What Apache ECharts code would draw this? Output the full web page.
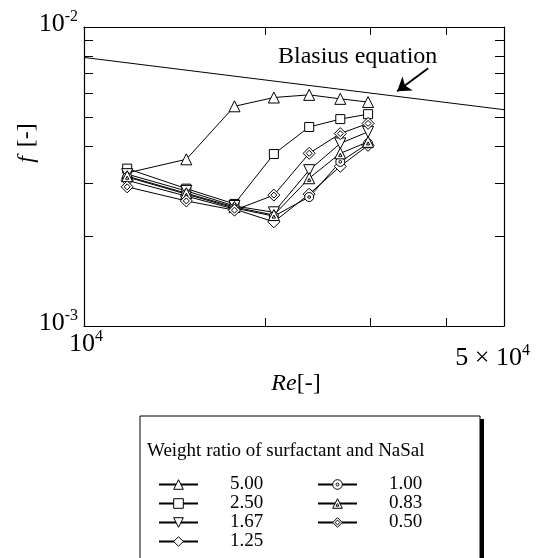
<!DOCTYPE html>
<html>
<head>
<meta charset="utf-8">
<title>f - Re</title>
<script src="https://cdn.jsdelivr.net/npm/echarts@6/dist/echarts.min.js"></script>
</head>
<body style="margin:0;background:#fff;">
<div id="main" style="width:539px;height:558px;"></div>
<script type="text/javascript">
// Reynolds numbers of the measurement points
var re = [11800, 14800, 17800, 20700, 23700, 26700, 29700];
// friction factor for each weight ratio
var f500 = [0.00325, 0.00361, 0.00543, 0.00581, 0.00593, 0.00575, 0.00561];
var f250 = [0.00336, 0.00288, 0.00256, 0.00376, 0.00463, 0.00492, 0.00511];
var f167 = [0.00322, 0.00283, 0.00252, 0.00240, 0.00332, 0.00408, 0.00446];
var f125 = [0.00307, 0.00272, 0.00246, 0.00223, 0.00276, 0.00342, 0.00402];
var f100 = [0.00315, 0.00276, 0.00248, 0.00233, 0.00270, 0.00354, 0.00408];
var f083 = [0.00317, 0.00278, 0.00250, 0.00235, 0.00312, 0.00378, 0.00413];
var f050 = [0.00292, 0.00262, 0.00244, 0.00274, 0.00378, 0.00440, 0.00476];
var names = ['5.00', '2.50', '1.67', '1.25', '1.00', '0.83', '0.50'];

// Blasius line end points
var blasiusRe = [10000, 50000];
var blasiusF = [0.00791, 0.00529];
var arrowFrom = [37400, 0.00728];
var arrowTo = [33200, 0.00610];

var xTicks = [20000, 30000, 40000];
var yTicks = [0.002, 0.003, 0.004, 0.005, 0.006, 0.007, 0.008, 0.009];
var xTickLabels = [[10000, '10', '4'], [50000, '5 × 10', '4']];
var yTickLabels = [[0.001, '10', '-3'], [0.01, '10', '-2']];

var FONT = '"Liberation Serif", "Times New Roman", serif';

var myChart = echarts.init(document.getElementById('main'));

function pairs(ys) {
    var out = [];
    for (var i = 0; i < re.length; i++) out.push([re[i], ys[i]]);
    return out;
}

var circDot = 'path://M0,10a10,10 0 1,0 20,0a10,10 0 1,0 -20,0M7,10a3,3 0 1,0 6,0a3,3 0 1,0 -6,0';
var triTri = 'path://M10,0L20,18L0,18ZM10,9L13,14L7,14Z';
var diaDia = 'path://M10,0L20,10L10,20L0,10ZM10,5L15,10L10,15L5,10Z';

var symbols = [
    {s: 'triangle', size: 11, rot: 0, d: f500},
    {s: 'rect', size: 9, rot: 0, d: f250},
    {s: 'triangle', size: 11, rot: 180, d: f167},
    {s: 'diamond', size: 12, rot: 0, d: f125},
    {s: circDot, size: 9, rot: 0, d: f100},
    {s: triTri, size: 11, rot: 0, d: f083},
    {s: diaDia, size: 12, rot: 0, d: f050}
];

var whiteMark = {color: '#fff', borderColor: '#000', borderWidth: 1};

var series = [{
    name: 'Blasius',
    type: 'line',
    data: [[blasiusRe[0], blasiusF[0]], [blasiusRe[1], blasiusF[1]]],
    showSymbol: false,
    symbol: 'none',
    silent: true,
    lineStyle: {color: '#000', width: 1},
    markLine: {
        silent: true,
        symbol: ['none', 'arrow'],
        symbolSize: 13,
        label: {show: false},
        lineStyle: {color: '#000', width: 2, type: 'solid'},
        data: [[{coord: arrowFrom}, {coord: arrowTo}]]
    }
}];
for (var i = 0; i < symbols.length; i++) {
    series.push({
        name: names[i],
        type: 'line',
        data: pairs(symbols[i].d),
        symbol: symbols[i].s,
        symbolSize: symbols[i].size,
        symbolRotate: symbols[i].rot,
        lineStyle: {color: '#000', width: 1},
        itemStyle: whiteMark,
        emphasis: {disabled: true}
    });
}

function xAx(pos) {
    return {
        type: 'log', logBase: 10, min: 10000, max: 50000, position: pos,
        axisLine: {show: true, onZero: false, lineStyle: {color: '#000', width: 1.2}},
        axisTick: {show: true, inside: true, length: 8, customValues: xTicks, lineStyle: {color: '#000'}},
        axisLabel: {show: false},
        splitLine: {show: false},
        minorTick: {show: false}
    };
}
function yAx(pos) {
    return {
        type: 'log', logBase: 10, min: 0.001, max: 0.01, position: pos,
        axisLine: {show: true, onZero: false, lineStyle: {color: '#000', width: 1.2}},
        axisTick: {show: true, inside: true, length: 9, customValues: yTicks, lineStyle: {color: '#000'}},
        axisLabel: {show: false},
        splitLine: {show: false},
        minorTick: {show: false}
    };
}

function legendItems(list) {
    return list.map(function (n) {
        return {name: n, itemStyle: whiteMark};
    });
}

function makeLegend(left, list) {
    return {
        orient: 'vertical',
        left: left,
        top: 475,
        height: 80,
        padding: 0,
        itemWidth: 39,
        itemHeight: 12,
        itemGap: 0,
        selectedMode: false,
        symbolRotate: 'inherit',
        textStyle: {fontFamily: FONT, fontSize: 19, color: '#000', lineHeight: 19, padding: [0, 0, 0, 27]},
        data: legendItems(list)
    };
}

option = {
    animation: false,
    backgroundColor: '#fff',
    grid: {left: 84, right: 35, top: 27, bottom: 232},
    xAxis: [xAx('bottom'), xAx('top')],
    yAxis: [yAx('left'), yAx('right')],
    legend: [makeLegend(158, names.slice(0, 4)), makeLegend(317, names.slice(4))],
    series: series
};
myChart.setOption(option);

// texts placed from the axes
var g = [
    {type: 'rect', shape: {x: 140, y: 416, width: 340, height: 160}, style: {fill: '#fff', stroke: '#000', lineWidth: 1}, z: -1},
    {type: 'rect', shape: {x: 480, y: 419, width: 4, height: 150}, style: {fill: '#000'}, z: -1},
    {type: 'text', x: 147, y: 451, style: {text: 'Weight ratio of surfactant and NaSal', font: '19px ' + FONT, fill: '#000', textVerticalAlign: 'middle'}}
];
var rich = {
    b: {fontFamily: FONT, fontSize: 26, lineHeight: 30, color: '#000'},
    s: {fontFamily: FONT, fontSize: 16, lineHeight: 16, verticalAlign: 'top', color: '#000'}
};
yTickLabels.forEach(function (t) {
    var py = myChart.convertToPixel({yAxisIndex: 0}, t[0]);
    g.push({type: 'text', x: 78, y: py - 3, style: {text: '{b|' + t[1] + '}{s|' + t[2] + '}', rich: rich, textAlign: 'right', textVerticalAlign: 'middle'}});
});
var bottomY = myChart.convertToPixel({yAxisIndex: 0}, 0.001);
xTickLabels.forEach(function (t, k) {
    var px = myChart.convertToPixel({xAxisIndex: 0}, t[0]);
    if (k === 0) {
        g.push({type: 'text', x: px + 2, y: bottomY + 18, style: {text: '{b|' + t[1] + '}{s|' + t[2] + '}', rich: rich, textAlign: 'center', textVerticalAlign: 'middle'}});
    } else {
        g.push({type: 'text', x: px + 26, y: bottomY + 32, style: {text: '{b|' + t[1] + '}{s|' + t[2] + '}', rich: rich, textAlign: 'right', textVerticalAlign: 'middle'}});
    }
});
g.push({type: 'text', x: 296, y: bottomY + 58, style: {
    text: '{i|Re}{n|[-]}', textAlign: 'center', textVerticalAlign: 'middle',
    rich: {i: {fontFamily: FONT, fontSize: 24, fontStyle: 'italic', color: '#000'}, n: {fontFamily: FONT, fontSize: 24, color: '#000'}}
}});
g.push({type: 'text', x: 27, y: 143, rotation: Math.PI / 2, style: {
    text: '{i|f}{n|[-]}', textAlign: 'center', textVerticalAlign: 'middle',
    rich: {i: {fontFamily: FONT, fontSize: 24, fontStyle: 'italic', color: '#000'}, n: {fontFamily: FONT, fontSize: 24, color: '#000', padding: [0, 0, 0, 9]}}
}});
g.push({type: 'text', x: 278, y: 57, style: {text: 'Blasius equation', font: '24px ' + FONT, fill: '#000', textVerticalAlign: 'middle'}});

myChart.setOption({graphic: g});
</script>
</body>
</html>
